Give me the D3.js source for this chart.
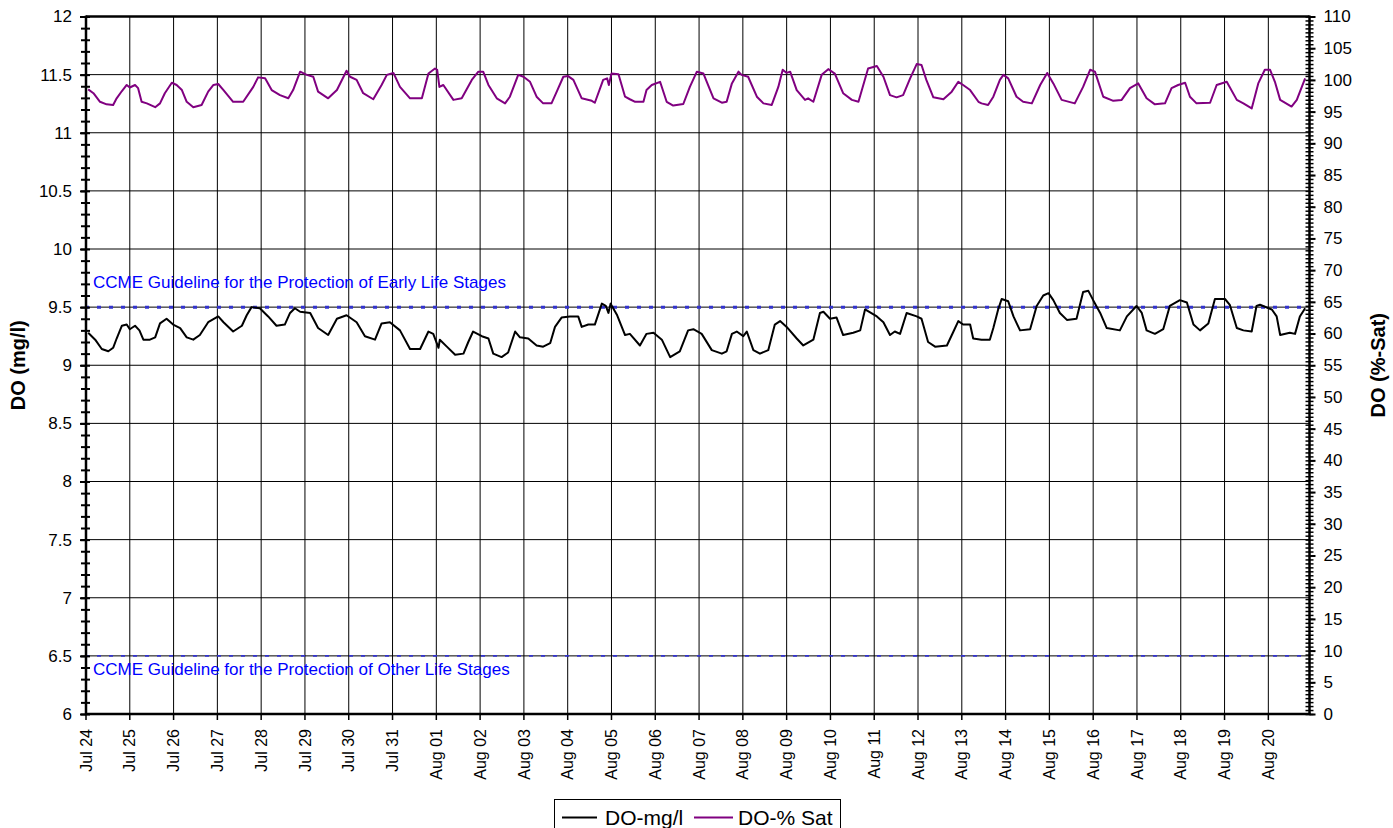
<!DOCTYPE html>
<html>
<head>
<meta charset="utf-8">
<script src="https://cdn.jsdelivr.net/npm/d3@7"></script>
<style>
  body { margin: 0; background: #fff; }
  svg { display: block; font-family: Arial, "Liberation Sans", sans-serif; }
</style>
</head>
<body>
<svg id="chart" width="1393" height="828"></svg>
<script>
// Day labels along the time axis (one per midnight, starting Jul 24)
const dayLabels = ["Jul 24","Jul 25","Jul 26","Jul 27","Jul 28","Jul 29","Jul 30","Jul 31",
  "Aug 01","Aug 02","Aug 03","Aug 04","Aug 05","Aug 06","Aug 07","Aug 08","Aug 09","Aug 10",
  "Aug 11","Aug 12","Aug 13","Aug 14","Aug 15","Aug 16","Aug 17","Aug 18","Aug 19","Aug 20"];

// Dissolved oxygen, mg/l: [days since Jul 24 00:00, value]
const doMgL = [
  [0.05,9.28],[0.21,9.22],[0.36,9.14],[0.51,9.12],[0.62,9.15],[0.70,9.23],[0.82,9.34],[0.93,9.35],
  [1.00,9.31],[1.12,9.34],[1.22,9.30],[1.31,9.22],[1.46,9.22],[1.58,9.24],[1.69,9.36],[1.84,9.40],
  [1.99,9.35],[2.15,9.32],[2.30,9.24],[2.45,9.22],[2.60,9.26],[2.79,9.37],[3.02,9.42],[3.14,9.37],
  [3.36,9.29],[3.56,9.34],[3.67,9.43],[3.78,9.50],[3.97,9.49],[4.16,9.42],[4.35,9.34],[4.54,9.35],
  [4.66,9.45],[4.77,9.49],[4.89,9.46],[5.12,9.45],[5.30,9.32],[5.53,9.26],[5.73,9.40],[5.95,9.43],
  [6.18,9.37],[6.37,9.25],[6.60,9.22],[6.75,9.36],[6.94,9.37],[7.17,9.30],[7.40,9.14],[7.63,9.14],
  [7.82,9.29],[7.93,9.27],[8.05,9.15],[8.08,9.22],[8.24,9.16],[8.43,9.09],[8.62,9.10],[8.73,9.20],
  [8.84,9.29],[9.04,9.25],[9.19,9.23],[9.30,9.10],[9.49,9.07],[9.64,9.11],[9.80,9.29],[9.91,9.24],
  [10.10,9.23],[10.29,9.17],[10.44,9.16],[10.60,9.19],[10.71,9.33],[10.86,9.41],[11.05,9.42],
  [11.24,9.42],[11.32,9.33],[11.47,9.35],[11.62,9.35],[11.78,9.53],[11.87,9.51],[11.93,9.45],
  [11.98,9.53],[12.13,9.43],[12.31,9.26],[12.42,9.27],[12.65,9.17],[12.80,9.27],[12.96,9.28],
  [13.15,9.22],[13.34,9.07],[13.56,9.12],[13.75,9.30],[13.87,9.31],[14.06,9.27],[14.29,9.13],
  [14.52,9.10],[14.63,9.12],[14.75,9.27],[14.86,9.29],[15.01,9.25],[15.09,9.29],[15.24,9.13],
  [15.39,9.10],[15.58,9.13],[15.73,9.35],[15.85,9.38],[16.00,9.33],[16.23,9.23],[16.38,9.17],
  [16.61,9.22],[16.76,9.45],[16.84,9.46],[16.99,9.40],[17.14,9.41],[17.29,9.26],[17.52,9.28],
  [17.68,9.30],[17.79,9.48],[18.06,9.42],[18.21,9.37],[18.36,9.26],[18.47,9.29],[18.59,9.27],
  [18.74,9.45],[18.97,9.42],[19.08,9.40],[19.23,9.20],[19.39,9.16],[19.66,9.17],[19.81,9.29],
  [19.92,9.38],[20.03,9.35],[20.19,9.35],[20.26,9.23],[20.45,9.22],[20.64,9.22],[20.72,9.32],
  [20.83,9.48],[20.91,9.57],[21.06,9.55],[21.18,9.42],[21.33,9.30],[21.56,9.31],[21.71,9.51],
  [21.86,9.60],[21.98,9.62],[22.09,9.56],[22.24,9.45],[22.40,9.39],[22.62,9.40],[22.77,9.63],
  [22.89,9.64],[23.00,9.56],[23.16,9.45],[23.31,9.32],[23.61,9.30],[23.77,9.42],[23.99,9.51],
  [24.11,9.45],[24.22,9.30],[24.41,9.27],[24.60,9.31],[24.75,9.51],[24.98,9.56],[25.14,9.54],
  [25.29,9.35],[25.44,9.30],[25.63,9.36],[25.78,9.57],[26.01,9.57],[26.12,9.52],[26.28,9.32],
  [26.43,9.30],[26.62,9.29],[26.73,9.51],[26.81,9.52],[27.08,9.48],[27.19,9.42],[27.27,9.26],
  [27.49,9.28],[27.61,9.27],[27.72,9.42],[27.84,9.49]
];

// Dissolved oxygen, % saturation: [days since Jul 24 00:00, value]
const doSat = [
  [0.05,98.5],[0.17,97.9],[0.32,96.55],[0.47,96.15],[0.62,96.05],[0.70,97.1],[0.82,98.25],
  [0.93,99.2],[1.00,98.8],[1.12,99.2],[1.19,98.7],[1.27,96.55],[1.39,96.3],[1.58,95.7],
  [1.69,96.3],[1.80,97.9],[1.96,99.55],[2.07,99.2],[2.19,98.4],[2.30,96.55],[2.45,95.7],
  [2.64,96.05],[2.79,98.15],[2.91,99.2],[3.02,99.35],[3.14,98.4],[3.36,96.55],[3.59,96.55],
  [3.82,98.9],[3.93,100.4],[4.09,100.25],[4.24,98.4],[4.43,97.6],[4.62,97.1],[4.73,98.4],
  [4.89,101.3],[5.04,100.8],[5.19,100.5],[5.30,98.15],[5.53,97.1],[5.73,98.4],[5.95,101.45],
  [6.03,100.5],[6.18,100.0],[6.33,97.9],[6.56,96.95],[6.75,99.2],[6.87,100.8],[7.02,101.1],
  [7.17,98.9],[7.40,97.1],[7.67,97.1],[7.82,101.0],[7.97,101.8],[8.02,101.6],[8.07,98.9],
  [8.16,99.2],[8.39,96.85],[8.58,97.1],[8.81,100.0],[8.96,101.3],[9.07,101.3],[9.19,99.2],
  [9.38,97.1],[9.57,96.3],[9.68,97.35],[9.87,100.8],[9.99,100.5],[10.14,99.7],[10.29,97.35],
  [10.44,96.3],[10.63,96.3],[10.75,98.15],[10.90,100.5],[11.01,100.6],[11.13,100.0],[11.32,97.1],
  [11.55,96.7],[11.62,96.4],[11.81,100.0],[11.90,100.25],[11.94,99.2],[12.00,101.0],[12.16,100.9],
  [12.31,97.35],[12.42,96.95],[12.54,96.55],[12.73,96.55],[12.80,98.4],[12.92,99.2],[13.11,99.7],
  [13.26,96.55],[13.41,95.95],[13.64,96.2],[13.79,98.9],[13.95,101.3],[14.10,101.0],[14.33,97.1],
  [14.52,96.4],[14.63,96.55],[14.75,99.45],[14.90,101.3],[14.97,100.8],[15.12,100.5],[15.32,97.35],
  [15.47,96.3],[15.66,96.05],[15.81,98.9],[15.91,101.6],[16.00,101.1],[16.08,101.3],[16.23,98.4],
  [16.42,96.85],[16.49,97.1],[16.61,96.55],[16.80,100.8],[16.95,101.7],[17.10,101.0],[17.29,97.9],
  [17.49,96.85],[17.64,96.55],[17.86,101.8],[18.06,102.2],[18.21,100.5],[18.36,97.6],[18.51,97.25],
  [18.66,97.6],[18.82,100.25],[18.97,102.5],[19.08,102.35],[19.19,100.0],[19.35,97.25],[19.58,96.95],
  [19.77,98.15],[19.92,99.7],[20.03,99.2],[20.19,98.4],[20.38,96.55],[20.45,96.3],[20.60,96.05],
  [20.72,97.35],[20.87,100.0],[20.95,100.8],[21.06,100.25],[21.25,97.35],[21.40,96.55],[21.60,96.3],
  [21.79,99.2],[21.95,101.1],[22.09,99.45],[22.28,96.85],[22.58,96.3],[22.77,98.9],[22.93,101.6],
  [23.04,101.3],[23.23,97.35],[23.46,96.7],[23.65,96.85],[23.84,98.7],[24.03,99.45],[24.22,97.1],
  [24.41,96.15],[24.64,96.3],[24.79,98.7],[24.94,99.2],[25.10,99.55],[25.21,97.35],[25.36,96.3],
  [25.67,96.4],[25.82,99.2],[26.05,99.7],[26.28,96.85],[26.43,96.3],[26.62,95.5],[26.77,99.45],
  [26.92,101.6],[27.04,101.6],[27.15,99.7],[27.27,96.85],[27.53,95.8],[27.65,96.85],[27.84,100.25]
];

// CCME guideline levels (mg/l)
const guidelineValues = [9.5, 6.5];
const guidelineLabels = ["CCME Guideline for the Protection of Early Life Stages",
                         "CCME Guideline for the Protection of Other Life Stages"];

const seriesNames = ["DO-mg/l", "DO-% Sat"];
const seriesColors = ["#000000", "#800080"];

// ---- layout ----
const plot = { left: 86, right: 1309.5, top: 16.5, bottom: 714 };
const svg = d3.select("#chart");

const x = d3.scaleLinear().domain([0, 27.94]).range([plot.left, plot.right]);
const yL = d3.scaleLinear().domain([6, 12]).range([plot.bottom, plot.top]);
const yR = d3.scaleLinear().domain([0, 110]).range([plot.bottom, plot.top]);

// gridlines
const grid = svg.append("g").attr("stroke", "#000").attr("stroke-width", 1);
grid.selectAll("line.h")
  .data(d3.range(13, 24).map(v => v / 2))
  .join("line").attr("class", "h")
  .attr("x1", plot.left).attr("x2", plot.right)
  .attr("y1", d => yL(d)).attr("y2", d => yL(d));
grid.selectAll("line.v")
  .data(d3.range(1, dayLabels.length))
  .join("line").attr("class", "v")
  .attr("y1", plot.top).attr("y2", plot.bottom)
  .attr("x1", d => x(d)).attr("x2", d => x(d));

// guideline lines (the upper one drawn heavier)
svg.append("g").selectAll("line")
  .data(guidelineValues)
  .join("line")
  .attr("x1", plot.left - 1).attr("x2", plot.right)
  .attr("y1", d => yL(d)).attr("y2", d => yL(d))
  .attr("stroke", "#3333cc")
  .attr("stroke-width", (d, i) => i === 0 ? 3 : 1.6)
  .attr("stroke-dasharray", "4,8");

// guideline labels
svg.append("g").selectAll("text")
  .data(guidelineValues)
  .join("text")
  .attr("x", 93)
  .attr("y", (d, i) => i === 0 ? yL(d) - 19 : yL(d) + 19)
  .attr("font-size", 17)
  .attr("fill", "#0000ff")
  .text((d, i) => guidelineLabels[i]);

// series lines
const lineL = d3.line().x(d => x(d[0])).y(d => yL(d[1]));
const lineR = d3.line().x(d => x(d[0])).y(d => yR(d[1]));
svg.append("path").datum(doSat)
  .attr("fill", "none").attr("stroke", seriesColors[1]).attr("stroke-width", 2)
  .attr("stroke-linejoin", "round").attr("d", lineR);
svg.append("path").datum(doMgL)
  .attr("fill", "none").attr("stroke", seriesColors[0]).attr("stroke-width", 2)
  .attr("stroke-linejoin", "round").attr("d", lineL);

// plot frame: top edge
svg.append("line")
  .attr("x1", plot.left).attr("x2", plot.right)
  .attr("y1", plot.top).attr("y2", plot.top)
  .attr("stroke", "#000").attr("stroke-width", 2.5);

// ---- left axis ----
const noDomain = g => g.select(".domain").remove();
svg.append("g").attr("transform", `translate(${plot.left + 4},0)`)
  .call(d3.axisLeft(yL).tickValues(d3.range(60, 121).map(v => v / 10)).tickSize(9).tickFormat(""))
  .call(noDomain)
  .selectAll("line").attr("stroke-width", 2);
svg.append("g").attr("transform", `translate(${plot.left},0)`)
  .call(d3.axisLeft(yL).tickValues(d3.range(12, 25).map(v => v / 2)).tickSize(6).tickPadding(8)
        .tickFormat(d3.format("~g")))
  .call(noDomain)
  .call(g => g.selectAll("line").attr("stroke-width", 2))
  .call(g => g.selectAll("text").attr("font-size", 17).attr("fill", "#000")
              .attr("font-family", "Arial, 'Liberation Sans', sans-serif"));
svg.append("line")
  .attr("x1", plot.left).attr("x2", plot.left)
  .attr("y1", plot.top - 1).attr("y2", plot.bottom + 1)
  .attr("stroke", "#000").attr("stroke-width", 2.5);

// ---- right axis ----
svg.append("g").attr("transform", `translate(${plot.right - 4},0)`)
  .call(d3.axisRight(yR).tickValues(d3.range(0, 177).map(i => i * 0.625)).tickSize(8).tickFormat(""))
  .call(noDomain)
  .selectAll("line").attr("stroke-width", 1.5);
svg.append("g").attr("transform", `translate(${plot.right},0)`)
  .call(d3.axisRight(yR).tickValues(d3.range(0, 111, 5)).tickSize(6).tickPadding(8))
  .call(noDomain)
  .call(g => g.selectAll("line").attr("stroke-width", 2))
  .call(g => g.selectAll("text").attr("font-size", 17).attr("fill", "#000")
              .attr("font-family", "Arial, 'Liberation Sans', sans-serif"));
svg.append("line")
  .attr("x1", plot.right).attr("x2", plot.right)
  .attr("y1", plot.top - 1).attr("y2", plot.bottom + 1)
  .attr("stroke", "#000").attr("stroke-width", 2.5);

// ---- time axis ----
const xa = svg.append("g").attr("transform", `translate(0,${plot.bottom})`);
xa.selectAll("line")
  .data(dayLabels)
  .join("line")
  .attr("x1", (d, i) => x(i)).attr("x2", (d, i) => x(i))
  .attr("y1", 0).attr("y2", 6)
  .attr("stroke", "#000").attr("stroke-width", 1.5);
xa.selectAll("text")
  .data(dayLabels)
  .join("text")
  .attr("transform", (d, i) => `translate(${x(i)},15) rotate(-90)`)
  .attr("text-anchor", "end")
  .attr("dy", "0.35em")
  .attr("font-size", 16)
  .text(d => d);
svg.append("line")
  .attr("x1", plot.left - 1).attr("x2", plot.right + 1)
  .attr("y1", plot.bottom).attr("y2", plot.bottom)
  .attr("stroke", "#000").attr("stroke-width", 2.5);

// ---- axis titles ----
svg.append("text")
  .attr("transform", `translate(25,${(plot.top + plot.bottom) / 2}) rotate(-90)`)
  .attr("text-anchor", "middle").attr("font-weight", "bold").attr("font-size", 20)
  .text("DO (mg/l)");
svg.append("text")
  .attr("transform", `translate(1385,${(plot.top + plot.bottom) / 2}) rotate(-90)`)
  .attr("text-anchor", "middle").attr("font-weight", "bold").attr("font-size", 20)
  .text("DO (%-Sat)");

// ---- legend ----
const lg = svg.append("g");
lg.append("rect")
  .attr("x", 554.5).attr("y", 799.5).attr("width", 286).attr("height", 40)
  .attr("fill", "#fff").attr("stroke", "#000").attr("stroke-width", 1);
const items = [
  { name: seriesNames[0], color: seriesColors[0], x0: 562, x1: 597, tx: 605 },
  { name: seriesNames[1], color: seriesColors[1], x0: 694, x1: 733, tx: 738 }
];
items.forEach(it => {
  lg.append("line").attr("x1", it.x0).attr("x2", it.x1).attr("y1", 817.5).attr("y2", 817.5)
    .attr("stroke", it.color).attr("stroke-width", 2);
  lg.append("text").attr("x", it.tx).attr("y", 824.5).attr("font-size", 21).text(it.name);
});
</script>
</body>
</html>
